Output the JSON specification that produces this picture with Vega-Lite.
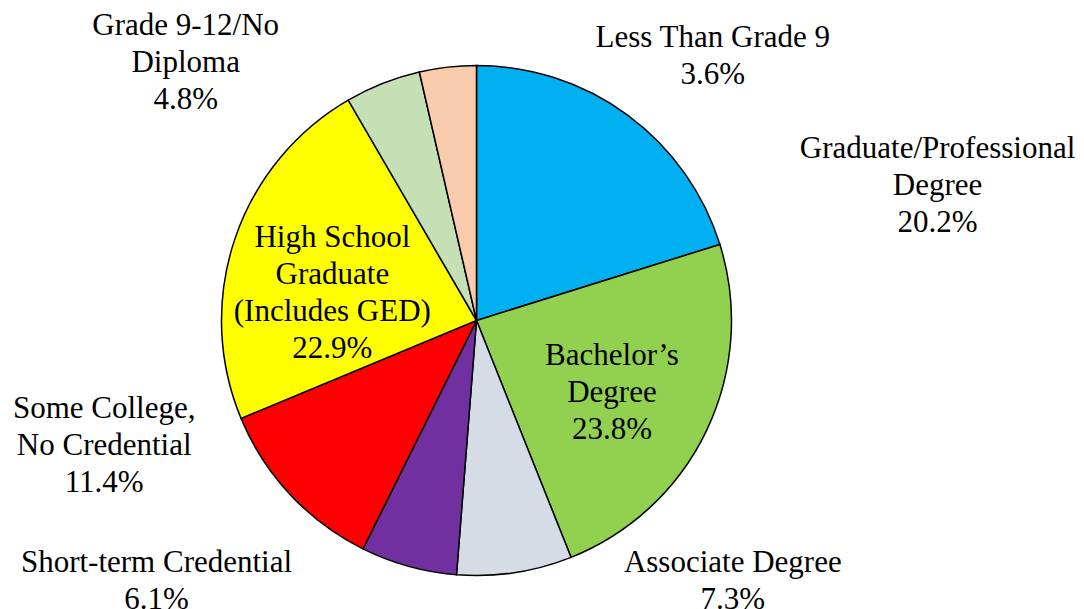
{
  "$schema": "https://vega.github.io/schema/vega-lite/v6.json",
  "autosize": {"type": "none"},
  "width": 510,
  "height": 510,
  "padding": {"left": 221.5, "top": 65.5, "right": 352.5, "bottom": 33.5},
  "background": "white",
  "config": {"view": {"stroke": null}},
  "data": {
    "values": [
      {"category": "Graduate/Professional Degree", "value": 20.2, "label": "Graduate/Professional\nDegree\n20.2%"},
      {"category": "Bachelor’s Degree", "value": 23.8, "label": "Bachelor’s\nDegree\n23.8%"},
      {"category": "Associate Degree", "value": 7.3, "label": "Associate Degree\n7.3%"},
      {"category": "Short-term Credential", "value": 6.1, "label": "Short-term Credential\n6.1%"},
      {"category": "Some College, No Credential", "value": 11.4, "label": "Some College,\nNo Credential\n11.4%"},
      {"category": "High School Graduate (Includes GED)", "value": 22.9, "label": "High School\nGraduate\n(Includes GED)\n22.9%"},
      {"category": "Grade 9-12/No Diploma", "value": 4.8, "label": "Grade 9-12/No\nDiploma\n4.8%"},
      {"category": "Less Than Grade 9", "value": 3.6, "label": "Less Than Grade 9\n3.6%"}
    ]
  },
  "transform": [{"window": [{"op": "row_number", "as": "idx"}]}],
  "encoding": {
    "theta": {"field": "value", "type": "quantitative", "stack": true},
    "order": {"field": "idx", "type": "quantitative"}
  },
  "layer": [
    {
      "mark": {"type": "arc", "outerRadius": 255, "stroke": "black", "strokeWidth": 1.5},
      "encoding": {
        "color": {
          "field": "category",
          "type": "nominal",
          "scale": {
            "domain": ["Graduate/Professional Degree", "Bachelor’s Degree", "Associate Degree", "Short-term Credential", "Some College, No Credential", "High School Graduate (Includes GED)", "Grade 9-12/No Diploma", "Less Than Grade 9"],
            "range": ["#00B0F0", "#92D050", "#D6DCE5", "#7030A0", "#FF0000", "#FFFF00", "#C5E0B4", "#F8CBAD"]
          },
          "legend": null
        }
      }
    },
    {
      "mark": {
        "type": "text",
        "font": "Liberation Serif",
        "fontSize": 31,
        "lineBreak": "\n",
        "lineHeight": 37,
        "align": "center",
        "baseline": "alphabetic",
        "color": "black",
        "radius": {"expr": "datum.idx == 2 || datum.idx == 6 ? 150 : 255"},
        "dx": {"expr": "[310, 0, 218, -252, -186, -2, -197, 265][datum.idx - 1]"},
        "dy": {"expr": "[43, -20, -1, 6, -77, -26, -48, -20][datum.idx - 1]"}
      },
      "encoding": {
        "text": {"field": "label", "type": "nominal"}
      }
    }
  ]
}
